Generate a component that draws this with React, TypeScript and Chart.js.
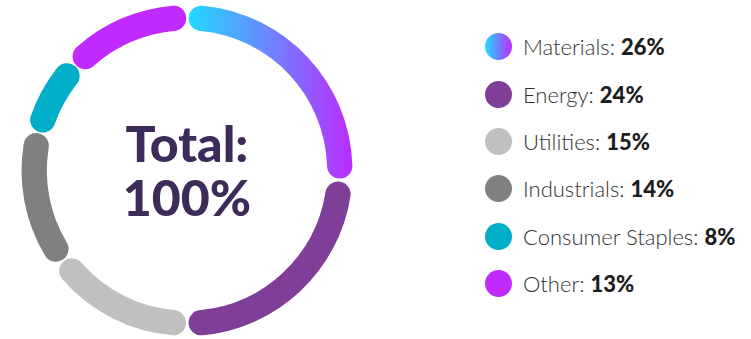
import React, { useEffect, useRef } from "react";
import { Chart, registerables } from "chart.js";

Chart.register(...registerables);

// Sector weights (percent of total)
const sectors = ["Materials", "Energy", "Utilities", "Industrials", "Consumer Staples", "Other"];
const shares = [26, 24, 15, 14, 8, 13];
const sectorColors = ["gradient", "#7f3f98", "#c0c0c0", "#808080", "#00aec7", "#c12aff"];
const totalLines = ["Total:", "100%"];

const GRAD_FROM = "#1fdcff";
const GRAD_TO = "#bd2aff";

const centerText = {
  id: "centerText",
  afterDatasetsDraw(chart: any) {
    const arc = chart.getDatasetMeta(0).data[0];
    if (!arc) return;
    const { ctx } = chart;
    ctx.save();
    ctx.fillStyle = "#3d2b5a";
    ctx.font = "900 50px Lato";
    ctx.textAlign = "center";
    ctx.textBaseline = "alphabetic";
    ctx.fillText(totalLines[0], arc.x, arc.y - 9);
    ctx.fillText(totalLines[1], arc.x, arc.y + 45);
    ctx.restore();
  },
};

export default function App() {
  const ref = useRef<HTMLCanvasElement>(null);

  useEffect(() => {
    if (!ref.current) return;
    const chart = new Chart(ref.current, {
      type: "doughnut",
      data: {
        labels: sectors,
        datasets: [
          {
            data: shares,
            backgroundColor: (c: any) => {
              const col = sectorColors[c.dataIndex];
              if (col !== "gradient") return col;
              const area = c.chart.chartArea;
              if (!area) return GRAD_FROM;
              const cx = (area.left + area.right) / 2;
              const g = c.chart.ctx.createLinearGradient(cx, 0, area.right - 20, 0);
              g.addColorStop(0, GRAD_FROM);
              g.addColorStop(1, GRAD_TO);
              return g;
            },
            borderWidth: 0,
            borderRadius: 13,
            spacing: 4,
          },
        ],
      },
      options: {
        animation: false,
        responsive: false,
        maintainAspectRatio: false,
        cutout: "84.5%",
        layout: { padding: { top: 5, bottom: 3, left: 0, right: 0 } },
        plugins: { legend: { display: false }, tooltip: { enabled: false } },
      },
      plugins: [centerText],
    });
    return () => chart.destroy();
  }, []);

  return (
    <div style={{ position: "fixed", left: 0, top: 0, width: 751, height: 339, background: "#fff" }}>
      <canvas ref={ref} width={374} height={339} style={{ position: "absolute", left: 0, top: 0 }} />
      <div style={{ position: "absolute", left: 485, top: 23, fontFamily: "Lato", fontSize: 22 }}>
        {sectors.map((s, i) => (
          <div key={s} style={{ display: "flex", alignItems: "center", height: 47.4 }}>
            <span
              style={{
                width: 27,
                height: 27,
                borderRadius: "50%",
                marginRight: 11,
                flexShrink: 0,
                background:
                  sectorColors[i] === "gradient"
                    ? `linear-gradient(to right, ${GRAD_FROM}, ${GRAD_TO})`
                    : sectorColors[i],
              }}
            />
            <span style={{ color: "#333", whiteSpace: "nowrap", fontWeight: 300 }}>
              {s}: <b style={{ color: "#1e1e1e", fontWeight: 900 }}>{shares[i]}%</b>
            </span>
          </div>
        ))}
      </div>
    </div>
  );
}
